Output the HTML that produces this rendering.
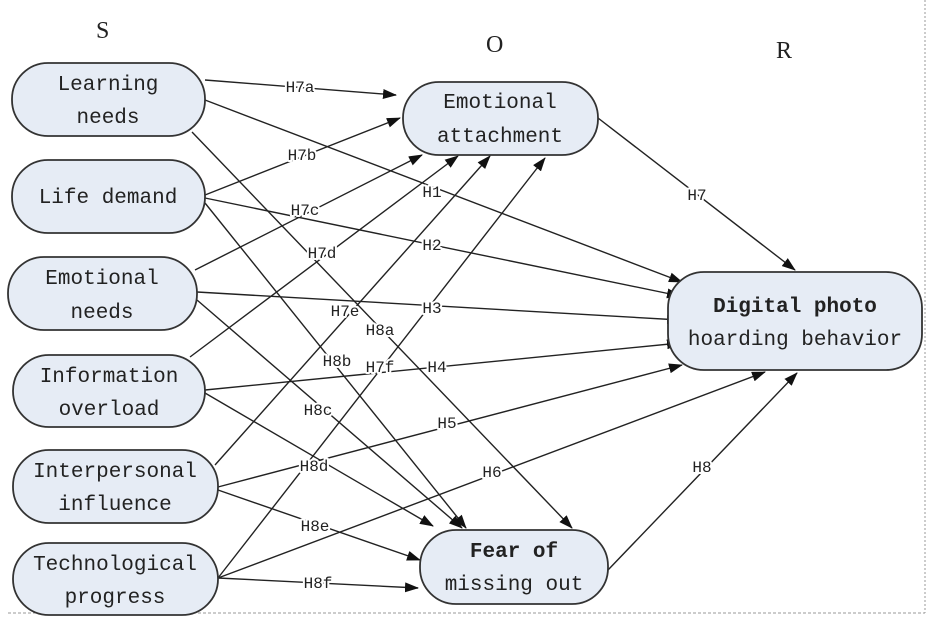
<!DOCTYPE html>
<html><head><meta charset="utf-8"><style>
html,body{margin:0;padding:0;background:#fff}
svg{display:block}
text{font-family:"Liberation Mono","DejaVu Sans Mono",monospace;fill:#222}
.b{fill:#e6ecf5;stroke:#333;stroke-width:1.8}
.t{font-size:21px;text-anchor:middle}
.l{font-size:16px;text-anchor:middle;paint-order:stroke;stroke:#fff;stroke-width:4px;stroke-linejoin:round}
line{stroke:#222;stroke-width:1.4}
</style></head><body>
<svg width="935" height="624" viewBox="0 0 935 624">
<defs><marker id="a" markerWidth="14" markerHeight="10" refX="13" refY="5" orient="auto" markerUnits="userSpaceOnUse"><path d="M0,0L14,5L0,10z" fill="#111"/></marker></defs>
<line x1="925" y1="0" x2="925" y2="613" stroke-dasharray="2,2" style="stroke:#999;stroke-width:1"/>
<line x1="8" y1="613" x2="925" y2="613" style="stroke:#999;stroke-width:1" stroke-dasharray="3,2"/>
<text x="96" y="38" style="font-family:'Liberation Serif',serif;font-size:24px">S</text>
<text x="486" y="52" style="font-family:'Liberation Serif',serif;font-size:24px">O</text>
<text x="776" y="58" style="font-family:'Liberation Serif',serif;font-size:24px">R</text>
<g marker-end="url(#a)">
<line x1="205" y1="80" x2="396" y2="95"/>
<line x1="205" y1="100" x2="682" y2="282"/>
<line x1="192" y1="132" x2="572" y2="528"/>
<line x1="205" y1="195" x2="400" y2="118"/>
<line x1="205" y1="198" x2="680" y2="296"/>
<line x1="205" y1="203" x2="466" y2="528"/>
<line x1="195" y1="270" x2="422" y2="155"/>
<line x1="197" y1="292" x2="680" y2="320"/>
<line x1="197" y1="300" x2="462" y2="528"/>
<line x1="190" y1="357" x2="458" y2="156"/>
<line x1="205" y1="390" x2="680" y2="343"/>
<line x1="205" y1="393" x2="433" y2="526"/>
<line x1="215" y1="465" x2="490" y2="156"/>
<line x1="218" y1="487" x2="682" y2="365"/>
<line x1="218" y1="490" x2="420" y2="560"/>
<line x1="218" y1="578" x2="545" y2="158"/>
<line x1="218" y1="578" x2="765" y2="372"/>
<line x1="218" y1="578" x2="418" y2="588"/>
<line x1="598" y1="118" x2="795" y2="270"/>
<line x1="608" y1="570" x2="797" y2="373"/>
</g>
<rect class="b" x="12" y="63" width="193" height="73" rx="36"/>
<rect class="b" x="12" y="160" width="193" height="73" rx="36"/>
<rect class="b" x="8" y="257" width="189" height="73" rx="36"/>
<rect class="b" x="13" y="355" width="192" height="72" rx="36"/>
<rect class="b" x="13" y="450" width="205" height="73" rx="36"/>
<rect class="b" x="13" y="543" width="205" height="72" rx="36"/>
<rect class="b" x="403" y="82" width="195" height="73" rx="36"/>
<rect class="b" x="668" y="272" width="254" height="98" rx="36"/>
<rect class="b" x="420" y="530" width="188" height="74" rx="36"/>
<text class="t" x="108" y="90">Learning</text><text class="t" x="108" y="123">needs</text>
<text class="t" x="108" y="203">Life demand</text>
<text class="t" x="102" y="284">Emotional</text><text class="t" x="102" y="318">needs</text>
<text class="t" x="109" y="382">Information</text><text class="t" x="109" y="415">overload</text>
<text class="t" x="115" y="477">Interpersonal</text><text class="t" x="115" y="510">influence</text>
<text class="t" x="115" y="570">Technological</text><text class="t" x="115" y="603">progress</text>
<text class="t" x="500" y="108">Emotional</text><text class="t" x="500" y="142">attachment</text>
<text class="t" x="795" y="312" style="font-weight:bold">Digital photo</text><text class="t" x="795" y="345">hoarding behavior</text>
<text class="t" x="514" y="557" style="font-weight:bold">Fear of</text><text class="t" x="514" y="590">missing out</text>
<text class="l" x="300" y="92">H7a</text>
<text class="l" x="302" y="160">H7b</text>
<text class="l" x="305" y="215">H7c</text>
<text class="l" x="322" y="258">H7d</text>
<text class="l" x="345" y="316">H7e</text>
<text class="l" x="380" y="372">H7f</text>
<text class="l" x="432" y="197">H1</text>
<text class="l" x="432" y="250">H2</text>
<text class="l" x="432" y="313">H3</text>
<text class="l" x="437" y="372">H4</text>
<text class="l" x="447" y="428">H5</text>
<text class="l" x="492" y="477">H6</text>
<text class="l" x="697" y="200">H7</text>
<text class="l" x="702" y="472">H8</text>
<text class="l" x="380" y="335">H8a</text>
<text class="l" x="337" y="366">H8b</text>
<text class="l" x="318" y="415">H8c</text>
<text class="l" x="314" y="471">H8d</text>
<text class="l" x="315" y="531">H8e</text>
<text class="l" x="318" y="588">H8f</text>
</svg>
</body></html>
